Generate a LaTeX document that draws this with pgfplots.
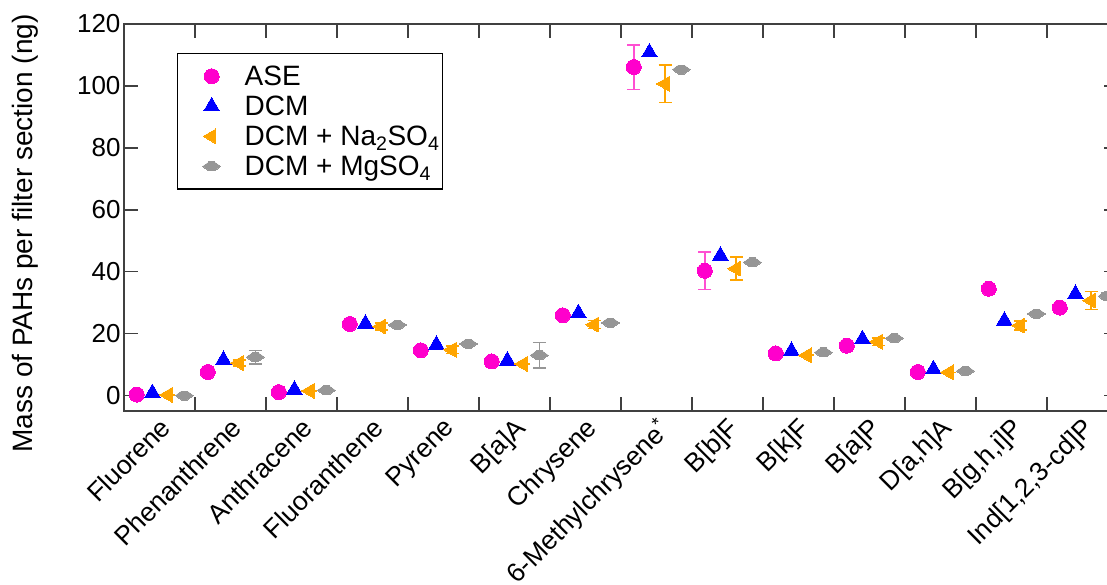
\documentclass[border=0pt]{standalone}
\usepackage{fontspec}
\setmainfont{Liberation Sans}
\usepackage{pgfplots}
\usepackage{pgfplotstable}
\pgfplotsset{compat=1.18}

\definecolor{asepink}{RGB}{255,0,204}
\definecolor{aseerr}{RGB}{255,80,210}
\definecolor{dcmblue}{RGB}{0,0,255}
\definecolor{naorange}{RGB}{255,165,0}
\definecolor{mggray}{RGB}{150,150,150}
\definecolor{axisgray}{RGB}{64,64,64}

\pgfdeclareplotmark{hdiamond*}{%
  \pgfpathmoveto{\pgfqpoint{-\pgfplotmarksize}{0pt}}%
  \pgfpathlineto{\pgfqpoint{-.3\pgfplotmarksize}{.5\pgfplotmarksize}}%
  \pgfpathlineto{\pgfqpoint{.3\pgfplotmarksize}{.5\pgfplotmarksize}}%
  \pgfpathlineto{\pgfqpoint{\pgfplotmarksize}{0pt}}%
  \pgfpathlineto{\pgfqpoint{.3\pgfplotmarksize}{-.5\pgfplotmarksize}}%
  \pgfpathlineto{\pgfqpoint{-.3\pgfplotmarksize}{-.5\pgfplotmarksize}}%
  \pgfpathclose
  \pgfusepathqfillstroke}

% x = category index, y = mass (ng), e = error
\pgfplotstableread{
x y e
0 0.3 0
1 7.6 0
2 1.1 0
3 23.1 0
4 14.6 0
5 11.0 0
6 25.9 0
7 106.1 7.2
8 40.3 6.0
9 13.6 0
10 16.1 0
11 7.6 0
12 34.5 0
13 28.4 0
}\ASE
\pgfplotstableread{
x y e
0 0.8 0
1 11.5 0
2 1.9 0
3 23.2 0
4 16.4 0
5 11.3 0
6 26.6 0
7 110.8 0
8 45.2 0
9 14.4 0
10 18.2 0
11 8.5 0
12 24.2 0
13 32.8 0
}\DCM
\pgfplotstableread{
x y e
0 0.2 0
1 10.5 1.0
2 1.5 0
3 22.3 1.2
4 14.8 1.2
5 10.2 0
6 22.9 1.3
7 100.7 6.1
8 41.0 3.7
9 13.0 0
10 17.4 1.2
11 7.5 0
12 22.6 1.4
13 30.7 2.9
}\NA
\pgfplotstableread{
x y e
0 0.0 0
1 12.4 2.2
2 1.7 0
3 22.8 0
4 16.7 0
5 13.0 4.1
6 23.5 0
7 105.3 0
8 43.0 0
9 13.9 0
10 18.5 0
11 7.9 0
12 26.4 0
13 32.1 1.0
}\MG

\begin{document}
\begin{tikzpicture}
\begin{axis}[
  scale only axis, width=994pt, height=387pt,
  xmin=-0.5, xmax=13.5, ymin=-5, ymax=120,
  axis line style={line width=1.6pt, axisgray},
  tick align=inside, tick pos=both,
  xticklabel pos=lower, yticklabel pos=left,
  major tick length=14pt, minor tick length=14pt,
  every tick/.style={line width=1.6pt, axisgray},
  xtick={0,...,13},
  major x tick style={draw=none},
  minor xtick={0.5,1.5,...,13.5},
  xticklabels={Fluorene,Phenanthrene,Anthracene,Fluoranthene,Pyrene,B[a]A,Chrysene,6-Methylchrysene\textsuperscript{*},B[b]F,B[k]F,B[a]P,{D[a,h]A},{B[g,h,i]P},{Ind[1,2,3-cd]P}},
  x tick label style={xshift=-1pt, rotate=45, anchor=north east, font=\fontsize{26.5}{30}\selectfont},
  ytick={0,20,...,120},
  y tick label style={font=\fontsize{26}{30}\selectfont},
  /pgf/number format/assume math mode=true,
  ylabel={Mass of PAHs per filter section (ng)},
  every axis y label/.style={at={(axis description cs:-0.0825,0.4587)}, rotate=90, anchor=south, font=\fontsize{28}{30}\selectfont},
  legend style={at={(axis description cs:0.0533,0.925)}, anchor=north west,
    draw=black, line width=1.4pt, font=\fontsize{28}{30}\selectfont,
    row sep=5pt, inner xsep=1pt, inner ysep=10pt},
  legend image code/.code={%
    \path[draw=none] (0pt,0pt) -- (64pt,0pt);
    \draw[#1] plot coordinates {(33pt,0pt)};},
  legend cell align=left,
  clip=false,
]
% error bars
\addplot[forget plot, draw=none, mark=none,
  error bars/.cd, y dir=both, y explicit,
  error bar style={draw=aseerr, line width=1.6pt},
  error mark options={draw=aseerr, line width=1.6pt, mark size=6.5pt, rotate=90}]
  table[x expr=\thisrow{x}-0.32, y=y, y error=e] {\ASE};
\addplot[forget plot, draw=none, mark=none,
  error bars/.cd, y dir=both, y explicit,
  error bar style={draw=naorange, line width=1.6pt},
  error mark options={draw=naorange, line width=1.6pt, mark size=6.5pt, rotate=90}]
  table[x expr=\thisrow{x}+0.12, y=y, y error=e] {\NA};
\addplot[forget plot, draw=none, mark=none,
  error bars/.cd, y dir=both, y explicit,
  error bar style={draw=mggray, line width=1.6pt},
  error mark options={draw=mggray, line width=1.6pt, mark size=6.5pt, rotate=90}]
  table[x expr=\thisrow{x}+0.35, y=y, y error=e] {\MG};
% markers
\addplot[only marks, mark=*, mark size=7.5pt, color=asepink, mark options={fill=asepink, draw=asepink, line width=0pt}]
  table[x expr=\thisrow{x}-0.32, y=y] {\ASE};
\addlegendentry{ASE}
\addplot[only marks, mark=triangle*, mark size=9pt, color=dcmblue, mark options={fill=dcmblue, draw=dcmblue, line width=0pt}]
  table[x expr=\thisrow{x}-0.10, y=y] {\DCM};
\addlegendentry{DCM}
\addplot[only marks, mark=triangle*, mark size=8.5pt, color=naorange, mark options={fill=naorange, draw=naorange, line width=0pt, rotate=90}]
  table[x expr=\thisrow{x}+0.12, y=y] {\NA};
\addlegendentry{DCM + Na\textsubscript{2}SO\textsubscript{4}}
\addplot[only marks, mark=hdiamond*, mark size=9pt, color=mggray, mark options={fill=mggray, draw=mggray, line width=0pt}]
  table[x expr=\thisrow{x}+0.35, y=y] {\MG};
\addlegendentry{DCM + MgSO\textsubscript{4}}
\end{axis}
\pgfresetboundingbox
\path[use as bounding box] (-124pt,-173pt) rectangle (983pt,411pt);
\end{tikzpicture}
\end{document}
